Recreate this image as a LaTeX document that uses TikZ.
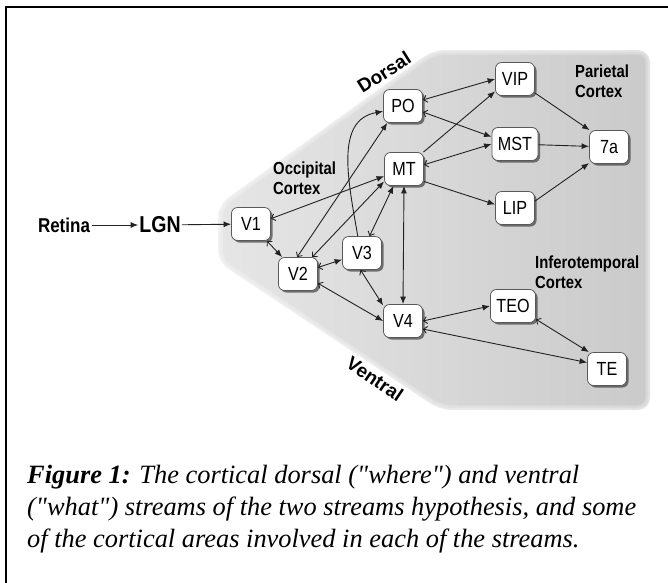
\documentclass[tikz,border=0pt]{standalone}
\usepackage{fontspec}
\setmainfont{Liberation Serif}
\newfontfamily\condsans[FakeStretch=0.85]{Liberation Sans}
\newfontfamily\plainsans{Liberation Sans}
\usetikzlibrary{arrows.meta,shadows}

\definecolor{regionL}{HTML}{E6E6E6}
\definecolor{regionM}{HTML}{EEEEEE}
\definecolor{regionR}{HTML}{CACACA}
\definecolor{ink}{HTML}{222222}

\newcommand{\dq}{\textquotedbl}

\tikzset{
  area/.style={draw=black!65, line width=0.8pt, fill=white, rounded corners=6pt,
    minimum width=39pt, minimum height=33pt, inner xsep=6pt,
    font=\condsans\fontsize{19}{19}\selectfont,
    drop shadow={shadow xshift=2pt, shadow yshift=-2pt, opacity=0.6, fill=black!85}},
  link/.style={line width=0.9pt, draw=ink},
  fwd/.style={link, -{Latex[length=7.5pt,width=6pt]}},
  bidir/.style={link, {Straight Barb[length=3.5pt,width=7pt]}-{Latex[length=7.5pt,width=6pt]}},
  both/.style={link, {Latex[length=7.5pt,width=6pt]}-{Latex[length=7.5pt,width=6pt]}},
  region/.style={font=\condsans\bfseries\fontsize{17.5}{20}\selectfont, align=left, anchor=west, inner sep=0pt},
  stream/.style={font=\plainsans\bfseries\fontsize{19}{19}\selectfont, inner sep=0pt},
  capline/.style={anchor=base west, inner sep=0pt, font=\fontsize{26.4}{32}\selectfont\itshape},
}

\begin{document}
\begin{tikzpicture}[x=1pt, y=-1pt]
\useasboundingbox (0,0) rectangle (668,582);
\clip (0,0) rectangle (668,582);

% page frame
\draw[line width=2pt] (5.7,600) -- (5.7,6.7) -- (690,6.7);

% shaded cortex region with a softened rim
\def\cortexoutline{(433,50) -- (650,50) -- (650,410) -- (440,410) -- (218,262) -- (218,205) -- cycle}
\path[rounded corners=12pt, left color=regionL, middle color=regionM, right color=regionR] \cortexoutline;
\foreach \w in {10,7,4,2}
  \draw[rounded corners=12pt, white, opacity=0.18, line width=\w pt] \cortexoutline;

% stream labels
\node[stream, rotate=32.4] (dorsal) at (384,72) {Dorsal};
\node[stream, rotate=-34] (ventral) at (375,379) {Ventral};

% region labels
\node[region] (occ) at (273,178) {Occipital\\Cortex};
\node[region] (par) at (575,81) {Parietal\\Cortex};
\node[region] (inf) at (535,272.5) {Inferotemporal\\Cortex};

% input chain
\node[font=\condsans\bfseries\fontsize{20}{20}\selectfont, inner sep=2pt] (retina) at (64,225) {Retina};
\node[font=\condsans\bfseries\fontsize{23}{23}\selectfont, inner sep=1pt] (lgn) at (160,225) {LGN};

% cortical areas
\node[area] (v1)  at (251,224) {V1};
\node[area] (v2)  at (298,274) {V2};
\node[area] (v3)  at (362,253) {V3};
\node[area] (v4)  at (403,321) {V4};
\node[area] (po)  at (403,106) {PO};
\node[area] (mt)  at (404,169) {MT};
\node[area] (vip) at (515,79)  {VIP};
\node[area] (mst) at (515,144) {MST};
\node[area] (lip) at (515,208) {LIP};
\node[area] (a7)  at (609,147) {7a};
\node[area] (teo) at (513,306) {TEO};
\node[area] (te)  at (607,369) {TE};

% connections
\draw[fwd] (retina) -- (lgn);
\draw[fwd] (lgn) -- (v1);
\draw[bidir] (v1) -- (v2);
\draw[bidir] (v1.15) -- (mt.200);
\draw[bidir] (v2.93) -- (po.227);
\draw[bidir] (v2.50) -- (mt.212);
\draw[fwd] (v3.104) .. controls (348,180) and (335,120) .. (po.195);
\draw[bidir] (v3.66) -- (mt.238);
\draw[both] (mt.south) -- (v4.north);
\draw[bidir] (v2) -- (v3);
\draw[bidir] (v2.-25) -- (v4.180);
\draw[bidir] (v3.-95) -- (v4.142);
\draw[bidir] (v4.east) -- (teo.west);
\draw[bidir] (v4.-22) -- (te.162);
\draw[bidir] (teo.-30) -- (te.137);
\draw[bidir] (mt.12) -- (mst.west);
\draw[fwd] (mt.-32) -- (lip.170);
\draw[fwd] (mt.41) -- (vip.212);
\draw[bidir] (po.17) -- (vip.west);
\draw[bidir] (po.-17) -- (mst.163);
\draw[fwd] (vip.-35) -- (a7.139);
\draw[fwd] (mst) -- (a7);
\draw[fwd] (lip.19) -- (a7.219);

% caption
\node[capline] (cap1) at (27,483) {{\bfseries Figure 1:} The cortical dorsal (\dq where\dq) and ventral};
\node[capline] (cap2) at (27,515) {(\dq what\dq) streams of the two streams hypothesis, and some};
\node[capline] (cap3) at (27,547) {of the cortical areas involved in each of the streams.};
\end{tikzpicture}
\end{document}
